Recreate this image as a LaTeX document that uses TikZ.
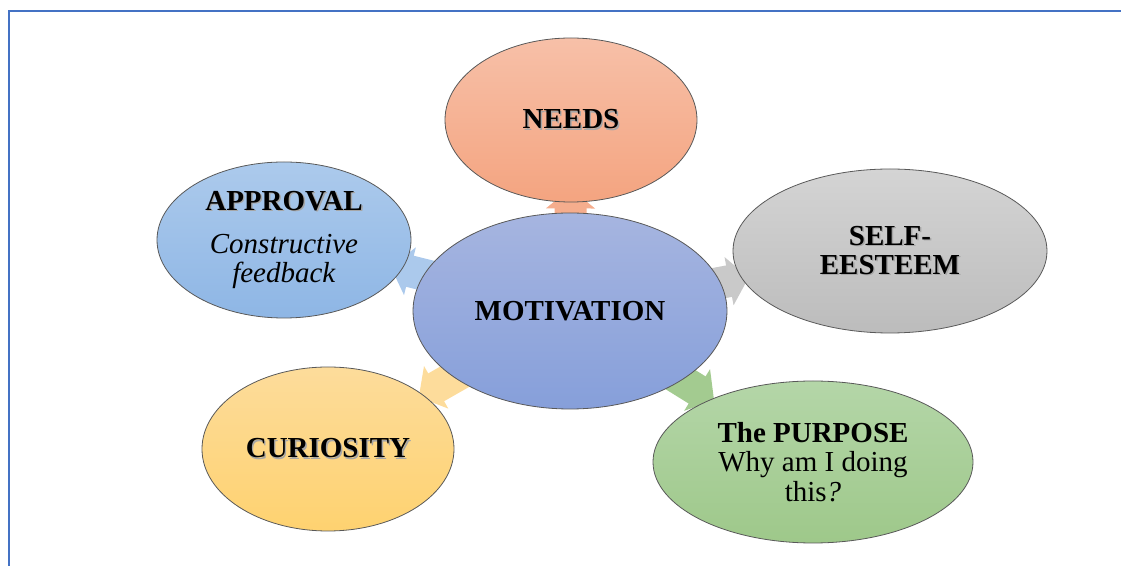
\documentclass[tikz,border=0pt]{standalone}
\usepackage{fontspec}
\setmainfont{Liberation Serif}
\usetikzlibrary{arrows.meta}
\usetikzlibrary{shapes.geometric}
\pgfdeclarelayer{background}
\pgfsetlayers{background,main}

\definecolor{frameblue}{RGB}{68,114,196}
\definecolor{needstop}{RGB}{247,192,168}
\definecolor{needsbot}{RGB}{244,164,128}
\definecolor{mottop}{RGB}{166,181,224}
\definecolor{motbot}{RGB}{134,159,218}
\definecolor{selftop}{RGB}{212,212,212}
\definecolor{selfbot}{RGB}{188,188,188}
\definecolor{apptop}{RGB}{172,202,236}
\definecolor{appbot}{RGB}{142,182,229}
\definecolor{curtop}{RGB}{253,220,155}
\definecolor{curbot}{RGB}{254,210,112}
\definecolor{purtop}{RGB}{180,214,168}
\definecolor{purbot}{RGB}{158,200,138}

\newcommand{\shtext}[1]{\leavevmode\rlap{\hspace{0.7pt}\raisebox{-0.7pt}{\textcolor{black!35}{#1}}}#1}

\begin{document}
\begin{tikzpicture}[x=0.5pt, y=-0.5pt,
  bubble/.style={ellipse, draw=black!65, line width=0.4pt, inner sep=0pt, align=center,
    font=\fontsize{14.5}{14.75}\selectfont},
  spoke/.style={line width=16pt, -{Triangle[length=10pt,width=24pt]},
    shorten <=-10pt}]
\useasboundingbox (0,0) rectangle (1121,566);
\draw [frameblue, line width=0.8pt] (9,566) -- (9,11) -- (1121,11);

\node [bubble, top color=mottop, bottom color=motbot, minimum width=157pt, minimum height=98pt, name=mot] at (570,311) {\textbf{MOTIVATION}};
\node [bubble, top color=needstop, bottom color=needsbot, minimum width=126pt, minimum height=82pt, name=needs] at (571,120) {\textbf{\shtext{NEEDS}}};
\node [bubble, top color=selftop, bottom color=selfbot, minimum width=157pt, minimum height=82pt, name=self] at (890,251) {\textbf{\shtext{SELF-}}\\\textbf{\shtext{EESTEEM}}};
\node [bubble, top color=purtop, bottom color=purbot, minimum width=160pt, minimum height=81pt, name=purp] at (813,462) {\textbf{The PURPOSE}\\Why am I doing\\this\textit{?}};
\node [bubble, top color=curtop, bottom color=curbot, minimum width=126pt, minimum height=82pt, name=cur] at (328,449) {\textbf{\shtext{CURIOSITY}}};
\node [bubble, top color=apptop, bottom color=appbot, minimum width=127pt, minimum height=78pt, name=appr] at (284,240) {\textbf{\shtext{APPROVAL}}\\[6.5pt]\textit{Constructive}\\\textit{feedback}};

\begin{pgfonlayer}{background}
  \draw [spoke, shorten >=-7pt, needsbot!90] (mot) -- (needs);
  \draw [spoke, shorten >=-3.5pt, selftop!95!black] (mot) -- (self);
  \draw [spoke, shorten >=-1.5pt, purbot!95] (mot) -- (purp);
  \draw [spoke, shorten >=-2.5pt, curtop] (mot) -- (cur);
  \draw [spoke, shorten >=-6pt, apptop!95!appbot] (mot) -- (appr);
\end{pgfonlayer}
\end{tikzpicture}
\end{document}
